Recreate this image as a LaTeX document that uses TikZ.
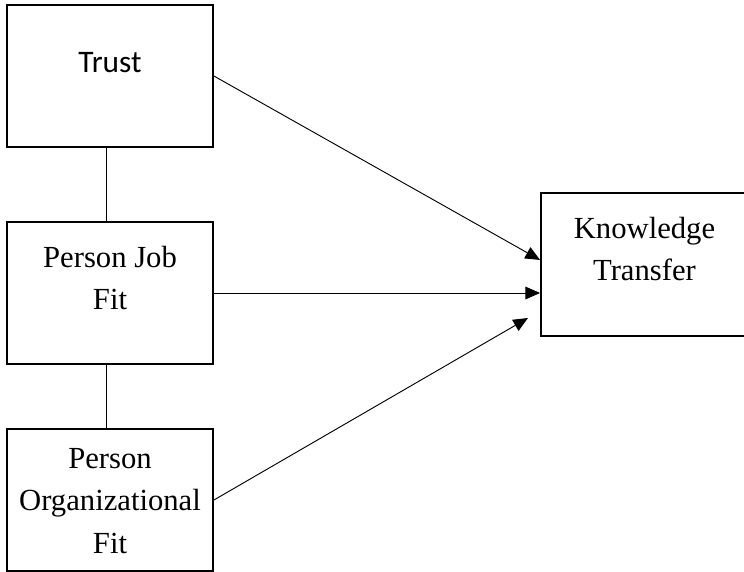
\documentclass[tikz,border=0pt]{standalone}
\usepackage{fontspec}
\setmainfont{Liberation Serif}
\newfontfamily\trustfont{Carlito}
\usetikzlibrary{arrows.meta}

\begin{document}
\begin{tikzpicture}[x=0.75pt,y=-0.75pt,line width=0.7pt,
  factor/.style={draw, line width=1.4pt, inner sep=0pt, text width=154.5pt,
    minimum width=154.5pt, align=flush center, font=\fontsize{23}{32}\selectfont},
  link/.style={-{Triangle[length=11pt,width=9.5pt]}}]

  % page size of the reference
  \useasboundingbox (0,0) rectangle (744,572);

  % the three predictors
  \node[factor, text height=50.25pt, text depth=56.25pt,
    font=\trustfont\fontsize{23.5}{32}\selectfont] (trust) at (110,76) {Trust};
  \node[factor, text height=33.75pt, text depth=72.75pt] (job) at (110,293)
    {Person Job\\Fit};
  \node[factor, text height=29.25pt, text depth=77.25pt] (org) at (110,500)
    {Person\\Organizational\\Fit};

  % outcome, cut at the right edge
  \node[factor, text width=155.25pt, minimum width=155.25pt,
    text height=33.75pt, text depth=73.5pt] (kt) at (644.5,264.5)
    {Knowledge\\Transfer};

  % links between predictors
  \draw ([xshift=-3pt]trust.south) -- ([xshift=-3pt]job.north);
  \draw ([xshift=-3pt]job.south) -- ([xshift=-3pt]org.north);

  % arrows to the outcome
  \coordinate (orgtip) at (528,318);
  \draw[link] (trust.east) -- ([yshift=3.4pt]kt.west);
  \draw[link] (job.east) -- (job.east -| kt.west);
  \draw[link] (org.east) -- (orgtip);

\end{tikzpicture}
\end{document}
